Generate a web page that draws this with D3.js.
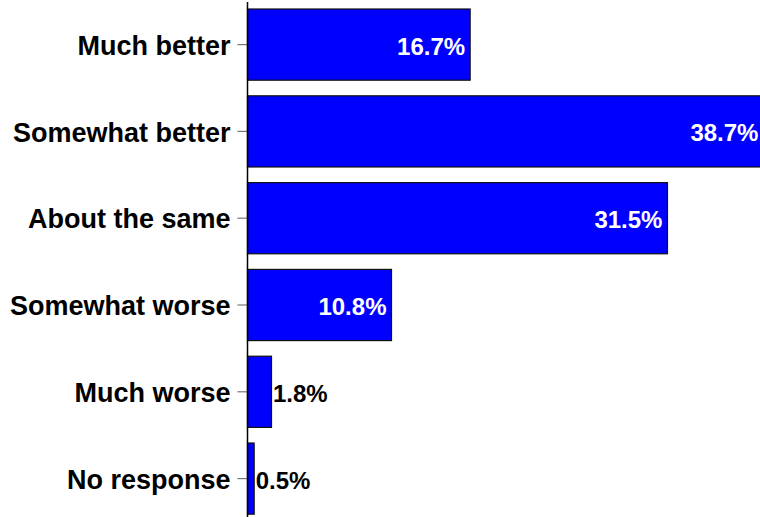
<!DOCTYPE html>
<html>
<head>
<meta charset="utf-8">
<script src="https://cdn.jsdelivr.net/npm/d3@7"></script>
<style>
  html, body { margin: 0; padding: 0; background: #fff; }
  svg { display: block; }
  text { font-family: "Liberation Sans", Arial, Helvetica, sans-serif; font-weight: bold; }
</style>
</head>
<body>
<svg id="chart" width="760" height="517"></svg>
<script>
// Survey answers and their shares (%)
const categories = ["Much better", "Somewhat better", "About the same", "Somewhat worse", "Much worse", "No response"];
const values = [16.7, 38.7, 31.5, 10.8, 1.8, 0.5];
const valueLabels = ["16.7%", "38.7%", "31.5%", "10.8%", "1.8%", "0.5%"];

const width = 760, height = 517;
const axisX = 247.5;

const svg = d3.select("#chart");

const x = d3.scaleLinear().domain([0, 40]).range([axisX, axisX + 533.3]);
const y = d3.scaleBand()
  .domain(categories)
  .range([1.2, 522])
  .paddingInner(0.18)
  .paddingOuter(0.09);

const rows = categories.map((c, i) => ({ cat: c, v: values[i], label: valueLabels[i] }));

// Bars
svg.append("g")
  .selectAll("rect")
  .data(rows)
  .join("rect")
  .attr("x", x(0))
  .attr("y", d => y(d.cat))
  .attr("width", d => x(d.v) - x(0))
  .attr("height", y.bandwidth())
  .attr("fill", "#0000ff")
  .attr("stroke", "#111")
  .attr("stroke-width", 1.2);

// Category axis
const axis = svg.append("g")
  .attr("transform", `translate(${axisX},0)`)
  .call(d3.axisLeft(y).tickSize(10).tickPadding(7));
axis.select(".domain").remove();
axis.selectAll(".tick line").attr("stroke", "#777").attr("stroke-width", 1.2);
axis.selectAll(".tick text")
  .attr("fill", "#000")
  .style("font-size", "27px")
  .attr("dy", "0.38em");

// Axis line
svg.append("line")
  .attr("x1", axisX).attr("x2", axisX)
  .attr("y1", 2).attr("y2", height)
  .attr("stroke", "#000")
  .attr("stroke-width", 1.5);

// Value labels: inside in white when the bar is wide enough, otherwise to the right
svg.append("g")
  .selectAll("text")
  .data(rows)
  .join("text")
  .style("font-size", "24px")
  .attr("y", d => y(d.cat) + y.bandwidth() / 2)
  .attr("dy", "0.42em")
  .each(function (d) {
    const inside = x(d.v) - x(0) > 90;
    d3.select(this)
      .attr("x", inside ? x(d.v) - 5 : x(d.v) + 1.5)
      .attr("text-anchor", inside ? "end" : "start")
      .attr("fill", inside ? "#fff" : "#000")
      .text(d.label);
  });
</script>
</body>
</html>
